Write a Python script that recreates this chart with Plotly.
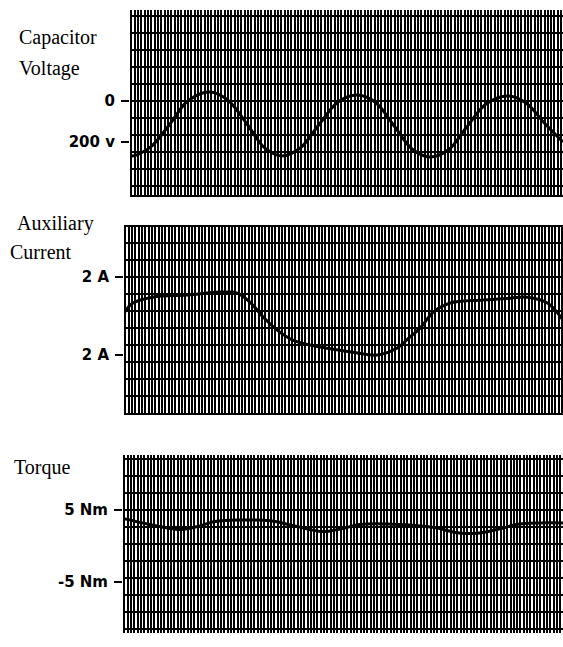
import plotly.graph_objects as go

# ---- data read from the strip-chart (time in ms from each panel's left edge) ----
cv_time = [0, 0.4, 2.8, 5.4, 7.8, 10.8, 13.2, 15.8, 18.2, 20.5, 23.0, 25.5, 28.1,
           30.7, 33.1, 35.7, 38.1, 40.5, 43.0, 45.5, 48.1, 51.1, 53.5, 56.1, 58.5]
cv_volts = [-263, -268, -224, -112, 0, 44, 5, -112, -229, -268, -229, -117, -5,
            29, -5, -122, -234, -273, -239, -127, -15, 24, -10, -112, -200]

ac_time = [0.0, 1.2, 3.9, 8.5, 13.0, 15.3, 17.0, 18.8, 20.7, 22.8, 26.5, 30.9,
           34.2, 36.9, 38.6, 40.0, 41.8, 44.1, 48.5, 52.2, 54.5, 57.2, 59.3]
ac_amps = [0.15, 0.67, 0.97, 1.08, 1.23, 1.18, 0.72, -0.05, -0.72, -1.23, -1.59, -1.85,
           -2.0, -1.64, -1.08, -0.62, 0.21, 0.67, 0.82, 0.92, 0.97, 0.67, -0.21]

tq_time = [0.1, 3.6, 7.7, 10.4, 12.4, 15.8, 19.9, 23.2, 27.0, 30.0, 32.0, 37.4,
           41.9, 45.5, 48.2, 51.4, 53.2, 56.4, 59.5]
tq_nm = [3.8, 3.0, 2.3, 2.8, 3.4, 3.6, 3.5, 2.8, 2.0, 2.5, 3.0, 3.0,
         2.6, 1.8, 1.8, 2.5, 3.0, 3.2, 3.2]

cv_tickvals = [0, -200]
cv_ticktext = ["0", "200 v"]
ac_tickvals = [2, -2]
ac_ticktext = ["2 A", "2 A"]
tq_tickvals = [5, -5]
tq_ticktext = ["5 Nm", "-5 Nm"]

title_lines = [("Capacitor", 17, 37), ("Voltage", 17, 68),
               ("Auxiliary", 15, 223), ("Current", 8, 252),
               ("Torque", 12, 467)]

W, H = 563, 647


def fx(px):
    return px / W


def fy(py):
    return 1 - py / H


panels = [
    dict(t=cv_time, v=cv_volts, tv=cv_tickvals, tt=cv_ticktext,
         xd=[fx(130), 1], yd=[fy(195), fy(10)],
         xr=[0, 58.5], yr=[-458.5, 444], row=82.9, row0=0, base=True),
    dict(t=ac_time, v=ac_amps, tv=ac_tickvals, tt=ac_ticktext,
         xd=[fx(124), 1], yd=[fy(413), fy(225)],
         xr=[0, 59.3], yr=[-4.97, 4.67], row=0.872, row0=2, base=True),
    dict(t=tq_time, v=tq_nm, tv=tq_tickvals, tt=tq_ticktext,
         xd=[fx(123), 1], yd=[fy(633), fy(455)],
         xr=[0, 59.5], yr=[-12.08, 12.64], row=2.36, row0=5, base=False),
]

fig = go.Figure()
layout = dict(width=W, height=H, margin=dict(l=0, r=0, t=0, b=0),
              paper_bgcolor="white", plot_bgcolor="white", showlegend=False)

for i, p in enumerate(panels, start=1):
    sfx = "" if i == 1 else str(i)
    fig.add_trace(go.Scatter(x=p["t"], y=p["v"], mode="lines",
                             line=dict(color="black", width=3, shape="spline", smoothing=1.0),
                             xaxis="x" + sfx, yaxis="y" + sfx, hoverinfo="skip"))
    layout["xaxis" + sfx] = dict(domain=p["xd"], range=p["xr"], anchor="y" + sfx,
                                 showticklabels=False, ticks="", zeroline=False,
                                 showgrid=True, tickmode="linear", tick0=0.2, dtick=0.45,
                                 gridcolor="black", gridwidth=2,
                                 showline=p["base"], linecolor="black", linewidth=2)
    layout["yaxis" + sfx] = dict(domain=p["yd"], range=p["yr"], anchor="x" + sfx,
                                 tickmode="array", tickvals=p["tv"], ticktext=p["tt"],
                                 ticks="outside", ticklen=8, tickwidth=2, tickcolor="black",
                                 ticklabelstandoff=3,
                                 tickfont=dict(family="DejaVu Sans", size=15, color="black",
                                               weight="bold"),
                                 showgrid=False, zeroline=False, showline=False,
                                 minor=dict(tickmode="linear", tick0=p["row0"], dtick=p["row"],
                                            showgrid=True, gridcolor="black", gridwidth=2,
                                            ticks=""))

annotations = []
for text, px, py in title_lines:
    annotations.append(dict(text=text, x=fx(px), y=fy(py), xref="paper", yref="paper",
                            xanchor="left", yanchor="middle", showarrow=False,
                            font=dict(family="Liberation Serif", size=20, color="black")))
layout["annotations"] = annotations

fig.update_layout(**layout)
fig.write_html(
    "out.html",
    config={"responsive": False, "displayModeBar": False},
    post_script="document.body.style.margin='0';document.body.style.overflow='hidden';",
)
